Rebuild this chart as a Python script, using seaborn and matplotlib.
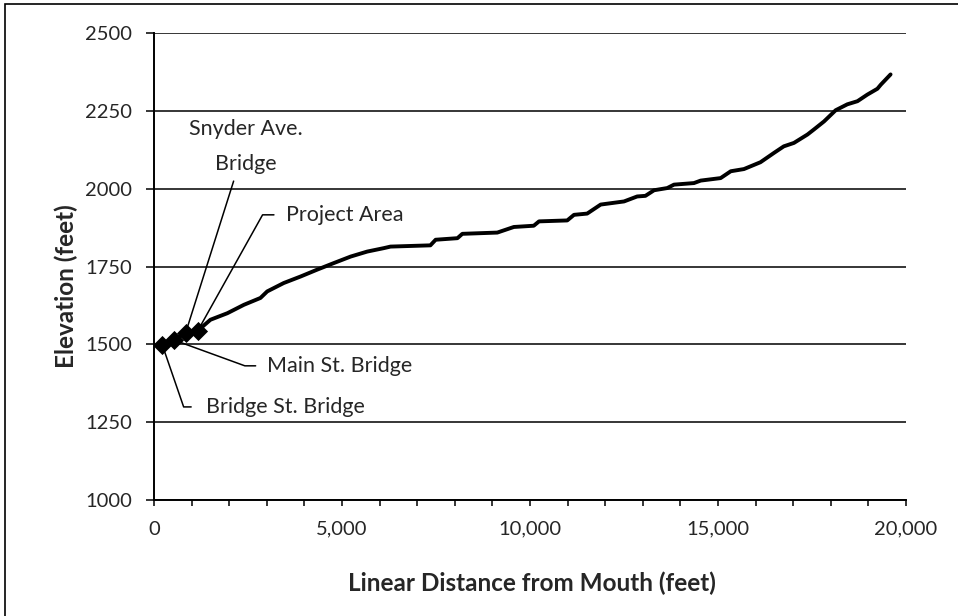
import matplotlib
matplotlib.use('Agg')
import numpy as np
import pandas as pd
import seaborn as sns
from matplotlib import pyplot as plt
from matplotlib.patches import Rectangle
from matplotlib.ticker import FuncFormatter, MultipleLocator

# stream profile (feet)
distance = [220, 527, 838, 1165, 1500, 1950, 2390, 2830, 3010, 3450, 3900, 4340,
            4780, 5230, 5670, 6110, 6290, 7350, 7490, 8070, 8200, 9130, 9570,
            10100, 10240, 10990, 11170, 11520, 11880, 12500, 12850, 13070, 13300,
            13650, 13830, 14360, 14540, 15070, 15340, 15690, 16130, 16490, 16750,
            17020, 17380, 17550, 17820, 18130, 18440, 18710, 18970, 19240, 19330,
            19590]
elevation = [1498, 1514, 1536, 1544, 1579, 1600, 1627, 1649, 1670, 1697, 1718, 1740,
             1761, 1782, 1798, 1809, 1814, 1818, 1836, 1841, 1855, 1859, 1877,
             1881, 1895, 1898, 1916, 1920, 1949, 1959, 1975, 1977, 1995,
             2002, 2013, 2018, 2026, 2034, 2056, 2063, 2085, 2115, 2136,
             2147, 2174, 2190, 2216, 2252, 2271, 2281, 2302, 2321, 2334,
             2367]

# landmarks along the profile
site_names = ['Bridge St. Bridge', 'Main St. Bridge', 'Snyder Ave.\nBridge', 'Project Area']
site_distance = [220, 527, 838, 1165]
site_elevation = [1498, 1514, 1536, 1544]

y_ticks = [1000, 1250, 1500, 1750, 2000, 2250, 2500]

sns.set_style('white')
plt.rcParams['font.family'] = ['Lato', 'DejaVu Sans']

profile = pd.DataFrame({'distance': distance, 'elevation': elevation})
sites = pd.DataFrame({'name': site_names, 'distance': site_distance,
                      'elevation': site_elevation})

fig = plt.figure(figsize=(9.58, 6.16), dpi=100)
ax = fig.add_axes([0.1608, 0.1883, 0.9457 - 0.1608, 0.9464 - 0.1883])

sns.lineplot(data=profile, x='distance', y='elevation', ax=ax, color='black',
             lw=2.8, sort=False, estimator=None, zorder=3)
sns.scatterplot(data=sites, x='distance', y='elevation', ax=ax, marker='D',
                s=95, color='black', edgecolor='black', linewidth=0, zorder=4)

# callout placement: (text x, text y, ha, va, relpos, connection, shrinkA)
callouts = [
    (1370, 1299, 'left', 'center', (0, 0.5), 'angle,angleA=0,angleB=109,rad=0', 8),
    (3011, 1431, 'left', 'center', (0, 0.5), 'angle,angleA=0,angleB=-20,rad=0', 6),
    (2450, 2135, 'center', 'center', (0.41, 0), 'arc3,rad=0', 3),
    (3498, 1916, 'left', 'center', (0, 0.5), 'angle,angleA=0,angleB=60.8,rad=0', 6),
]
for (name, d, e), (tx, ty, ha, va, rp, cs, sa) in zip(
        zip(site_names, site_distance, site_elevation), callouts):
    ax.annotate(name, xy=(d, e), xytext=(tx, ty), ha=ha, va=va,
                multialignment='center', linespacing=1.9, fontsize=15.5, zorder=2,
                arrowprops=dict(arrowstyle='-', color='black', lw=1.1,
                                relpos=rp, connectionstyle=cs,
                                shrinkA=sa, shrinkB=0))

ax.set_xlim(0, 20000)
ax.set_ylim(1000, 2500)
ax.set_yticks(y_ticks)
ax.xaxis.set_major_locator(MultipleLocator(5000))
ax.xaxis.set_minor_locator(MultipleLocator(1000))
ax.xaxis.set_major_formatter(FuncFormatter(lambda v, p: f'{int(v):,}'))

ax.yaxis.grid(True, color='black', lw=1.1)
ax.xaxis.grid(False)
ax.set_axisbelow(True)
for side in ['top', 'right']:
    ax.spines[side].set_visible(False)
for side in ['left', 'bottom']:
    ax.spines[side].set_color('black')
    ax.spines[side].set_linewidth(1.4)

ax.tick_params(axis='y', which='major', direction='out', length=6, width=1.1,
               pad=10, labelsize=14.5, color='black', left=True)
ax.tick_params(axis='x', which='both', direction='out', length=4, width=1.1,
               pad=11, labelsize=14.5, color='black', bottom=True)

ax.set_xlabel('Linear Distance from Mouth (feet)', fontsize=17.5, fontweight='bold',
              va='center')
ax.set_ylabel('Elevation (feet)', fontsize=17.5, fontweight='bold', va='center')
ax.xaxis.set_label_coords(0.503, -0.178)
ax.yaxis.set_label_coords(-0.117, 0.458)

# outer chart frame (only the top and left edges fall inside the image)
fig.patches.append(Rectangle((5 / 958, -0.5), 2, 0.5 + 1 - 4 / 616,
                             transform=fig.transFigure, fill=False,
                             edgecolor='black', lw=1.2))

fig.savefig('out.png', dpi=100)
